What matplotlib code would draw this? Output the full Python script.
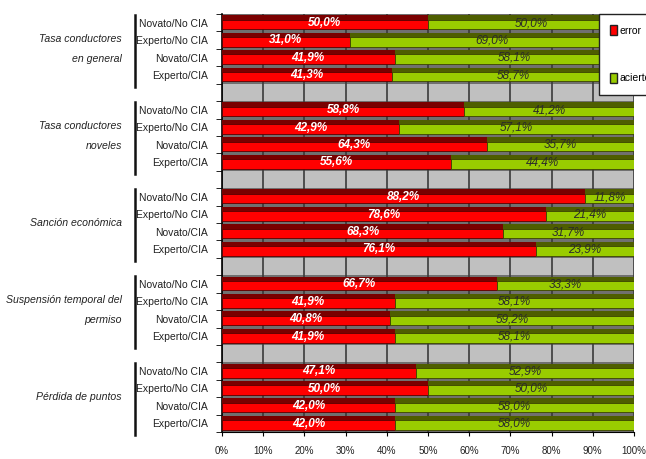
import matplotlib
matplotlib.use('Agg')
import matplotlib.pyplot as plt
from matplotlib.patches import Patch
from matplotlib.lines import Line2D

# datos
grupos = ['Tasa conductores\nen general', 'Tasa conductores\nnoveles', 'Sanción económica',
          'Suspensión temporal del\npermiso', 'Pérdida de puntos']
categorias = ['Novato/No CIA', 'Experto/No CIA', 'Novato/CIA', 'Experto/CIA']
error = [[50.0, 31.0, 41.9, 41.3],
         [58.8, 42.9, 64.3, 55.6],
         [88.2, 78.6, 68.3, 76.1],
         [66.7, 41.9, 40.8, 41.9],
         [47.1, 50.0, 42.0, 42.0]]
acierto = [[50.0, 69.0, 58.1, 58.7],
           [41.2, 57.1, 35.7, 44.4],
           [11.8, 21.4, 31.7, 23.9],
           [33.3, 58.1, 59.2, 58.1],
           [52.9, 50.0, 58.0, 58.0]]
xticks = [0, 10, 20, 30, 40, 50, 60, 70, 80, 90, 100]

plt.rcParams['font.family'] = ['Liberation Sans', 'DejaVu Sans']

fig = plt.figure(figsize=(6.46, 4.59), dpi=100)
ax = fig.add_axes([222/646, 1-432/459, (634-222)/646, (432-14)/459])
ax.set_facecolor('#c0c0c0')

def fmt(v):
    return ('%.1f%%' % v).replace('.', ',')

pos_all = []
for g in range(len(grupos)):
    for i in range(4):
        y = g*5 + i
        pos_all.append(y)
        e = error[g][i]
        a = acierto[g][i]
        # fondo oscuro de la fila
        ax.barh(y, 100, height=1.0, color='#707070', zorder=2)
        # sombra superior
        ax.barh(y-0.2, e, height=0.45, color='#7a0000', zorder=3)
        ax.barh(y-0.2, a, left=e, height=0.45, color='#4e5e00', zorder=3)
        # cara frontal
        ax.barh(y+0.1, e, height=0.55, color='#ff0000', edgecolor='#5a0000', lw=0.6, zorder=4)
        ax.barh(y+0.1, a, left=e, height=0.55, color='#99cc00', edgecolor='#3a4400', lw=0.6, zorder=4)
        ax.text(e/2, y+0.02, fmt(e), ha='center', va='center', color='white',
                fontsize=8.5, fontweight='bold', style='italic', zorder=6)
        ax.text(e + a/2, y+0.02, fmt(a), ha='center', va='center', color='#2b2b2b',
                fontsize=8.5, style='italic', zorder=6)

for x in xticks:
    ax.axvline(x, color='#3a3a3a', lw=1.2, zorder=2.5)

ax.set_xlim(0, 100)
ax.set_ylim(23.5, -0.5)
ax.set_xticks(xticks)
ax.set_xticklabels([str(x) + '%' for x in xticks], fontsize=7, color='#222222')
ax.tick_params(axis='x', length=3, pad=7)
ax.set_yticks(pos_all)
ax.set_yticklabels(categorias * len(grupos), fontsize=7.5, color='#222222')
ax.tick_params(axis='y', length=0, pad=10)
ax.set_yticks([p - 0.5 for p in range(25)], minor=True)
ax.tick_params(axis='y', which='minor', length=4)
for s in ['top', 'right']:
    ax.spines[s].set_visible(False)
ax.spines['left'].set_linewidth(1.2)

# etiquetas de grupo y líneas verticales
for g, nombre in enumerate(grupos):
    yc = g*5 + 1.5
    ax.text(-0.243, yc, nombre, transform=ax.get_yaxis_transform(), ha='right', va='center',
            fontsize=7.6, style='italic', color='#222222', linespacing=2.3)
    ax.add_line(Line2D([-0.211, -0.211], [g*5 - 0.45, g*5 + 3.7], transform=ax.get_yaxis_transform(),
                       color='#111111', lw=1.8, clip_on=False))

handles = [Patch(facecolor='#ff0000', edgecolor='#222222', label='error'),
           Patch(facecolor='#99cc00', edgecolor='#222222', label='acierto')]
leg = fig.legend(handles=handles, loc='upper left', bbox_to_anchor=(599/646, 1-14/459),
                 fontsize=7.5, labelspacing=3.6, handlelength=0.6, handleheight=1.0,
                 handletextpad=0.25, borderpad=1.1, borderaxespad=0.0,
                 fancybox=False, framealpha=1)
leg.get_frame().set_edgecolor('#222222')
leg.set_zorder(10)

fig.savefig('out.png', dpi=100)
